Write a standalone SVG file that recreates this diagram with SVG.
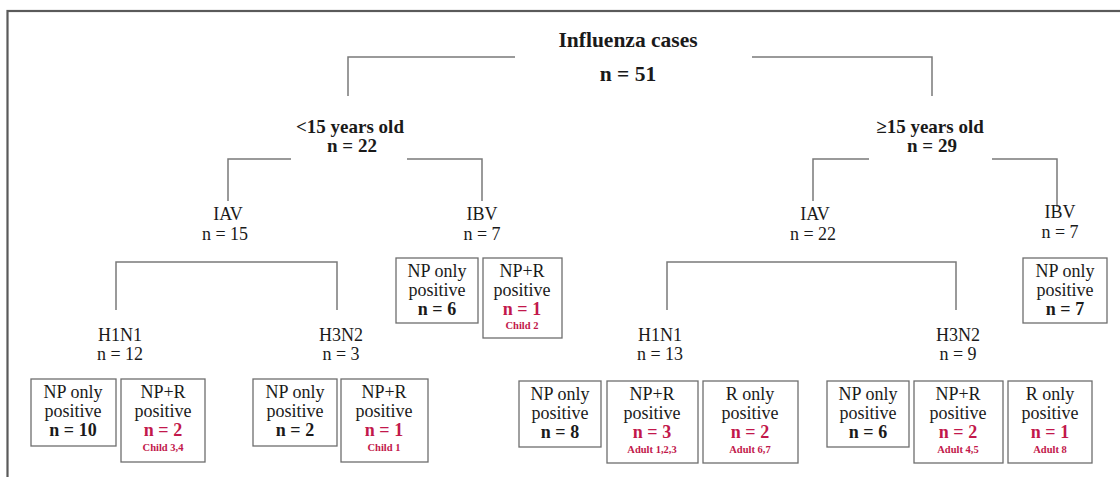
<svg xmlns="http://www.w3.org/2000/svg" width="1120" height="477" viewBox="0 0 1120 477" font-family="'Liberation Serif', 'DejaVu Serif', serif">
<style>
text{font-family:'Liberation Serif','DejaVu Serif',serif;text-anchor:middle;fill:#1a1a1a}
.t{font-size:21.5px;font-weight:bold}
.g{font-size:19px;font-weight:bold}
.l{font-size:18px}
.b{font-size:18px;font-weight:bold}
.r{fill:#c2184b}
.s{font-size:10.5px;font-weight:bold;fill:#c2184b}
.box{fill:#fff;stroke:#6e6e6e;stroke-width:1.3}
.c{fill:none;stroke:#7a7a7a;stroke-width:1.5}
</style>
<rect x="0" y="0" width="1120" height="477" fill="#fff"/>
<rect x="7.5" y="11" width="1200" height="600" fill="none" stroke="#5a5a5a" stroke-width="2.2"/>
<g id="connectors">
<polyline class="c" points="515,57 348,57 348,96"/>
<polyline class="c" points="752,57 932,57 932,96"/>
<polyline class="c" points="291,159 228,159 228,201"/>
<polyline class="c" points="407,159 482,159 482,201"/>
<polyline class="c" points="869,159 813,159 813,201"/>
<polyline class="c" points="992,159 1057,159 1057,207"/>
<polyline class="c" points="116,310 116,262 337,262 337,310"/>
<polyline class="c" points="667,310 667,262 956,262 956,310"/>
</g>
<g id="root">
<text class="t" x="628" y="47">Influenza cases</text>
<text class="t" x="628" y="81">n = 51</text>
</g>
<g id="under15">
<text class="g" x="350" y="133">&lt;15 years old</text>
<text class="g" x="352" y="152">n = 22</text>
</g>
<g id="over15">
<text class="g" x="930" y="133">≥15 years old</text>
<text class="g" x="932" y="152">n = 29</text>
</g>
<g id="iav-child">
<text class="l" x="228" y="220">IAV</text>
<text class="l" x="225" y="240">n = 15</text>
</g>
<g id="ibv-child">
<text class="l" x="482" y="220">IBV</text>
<text class="l" x="482" y="240">n = 7</text>
</g>
<g id="iav-adult">
<text class="l" x="815" y="220">IAV</text>
<text class="l" x="813" y="240">n = 22</text>
</g>
<g id="ibv-adult">
<text class="l" x="1060" y="218">IBV</text>
<text class="l" x="1060" y="238">n = 7</text>
</g>
<g id="h1n1-child">
<text class="l" x="120" y="341">H1N1</text>
<text class="l" x="120" y="360">n = 12</text>
</g>
<g id="h3n2-child">
<text class="l" x="341" y="341">H3N2</text>
<text class="l" x="341" y="360">n = 3</text>
</g>
<g id="h1n1-adult">
<text class="l" x="660" y="341">H1N1</text>
<text class="l" x="660" y="360">n = 13</text>
</g>
<g id="h3n2-adult">
<text class="l" x="958" y="341">H3N2</text>
<text class="l" x="958" y="360">n = 9</text>
</g>
<g id="ibv-child-np">
<rect class="box" x="396" y="258" width="82" height="65"/>
<text class="l" x="437" y="277">NP only</text>
<text class="l" x="437" y="296">positive</text>
<text class="b" x="437" y="315">n = 6</text>
</g>
<g id="ibv-child-npr">
<rect class="box" x="483" y="258" width="79" height="80"/>
<text class="l" x="522" y="277">NP+R</text>
<text class="l" x="522" y="296">positive</text>
<text class="b r" x="522" y="315">n = 1</text>
<text class="s" x="522" y="329">Child 2</text>
</g>
<g id="ibv-adult-np">
<rect class="box" x="1023" y="258" width="84" height="65"/>
<text class="l" x="1065" y="277">NP only</text>
<text class="l" x="1065" y="296">positive</text>
<text class="b" x="1065" y="315">n = 7</text>
</g>
<g id="h1n1-child-np">
<rect class="box" x="31" y="379" width="85" height="67"/>
<text class="l" x="73" y="398">NP only</text>
<text class="l" x="73" y="417">positive</text>
<text class="b" x="73" y="436">n = 10</text>
</g>
<g id="h1n1-child-npr">
<rect class="box" x="121" y="379" width="84" height="83"/>
<text class="l" x="163" y="398">NP+R</text>
<text class="l" x="163" y="417">positive</text>
<text class="b r" x="163" y="436">n = 2</text>
<text class="s" x="163" y="451">Child 3,4</text>
</g>
<g id="h3n2-child-np">
<rect class="box" x="253" y="379" width="84" height="67"/>
<text class="l" x="295" y="398">NP only</text>
<text class="l" x="295" y="417">positive</text>
<text class="b" x="295" y="436">n = 2</text>
</g>
<g id="h3n2-child-npr">
<rect class="box" x="341" y="379" width="87" height="83"/>
<text class="l" x="384" y="398">NP+R</text>
<text class="l" x="384" y="417">positive</text>
<text class="b r" x="384" y="436">n = 1</text>
<text class="s" x="384" y="451">Child 1</text>
</g>
<g id="h1n1-adult-np">
<rect class="box" x="519" y="381" width="82" height="66"/>
<text class="l" x="560" y="400">NP only</text>
<text class="l" x="560" y="419">positive</text>
<text class="b" x="560" y="438">n = 8</text>
</g>
<g id="h1n1-adult-npr">
<rect class="box" x="607" y="381" width="91" height="82"/>
<text class="l" x="652" y="400">NP+R</text>
<text class="l" x="652" y="419">positive</text>
<text class="b r" x="652" y="438">n = 3</text>
<text class="s" x="652" y="453">Adult 1,2,3</text>
</g>
<g id="h1n1-adult-r">
<rect class="box" x="703" y="381" width="95" height="82"/>
<text class="l" x="750" y="400">R only</text>
<text class="l" x="750" y="419">positive</text>
<text class="b r" x="750" y="438">n = 2</text>
<text class="s" x="750" y="453">Adult 6,7</text>
</g>
<g id="h3n2-adult-np">
<rect class="box" x="827" y="381" width="82" height="66"/>
<text class="l" x="868" y="400">NP only</text>
<text class="l" x="868" y="419">positive</text>
<text class="b" x="868" y="438">n = 6</text>
</g>
<g id="h3n2-adult-npr">
<rect class="box" x="914" y="381" width="89" height="82"/>
<text class="l" x="958" y="400">NP+R</text>
<text class="l" x="958" y="419">positive</text>
<text class="b r" x="958" y="438">n = 2</text>
<text class="s" x="958" y="453">Adult 4,5</text>
</g>
<g id="h3n2-adult-r">
<rect class="box" x="1008" y="381" width="84" height="82"/>
<text class="l" x="1050" y="400">R only</text>
<text class="l" x="1050" y="419">positive</text>
<text class="b r" x="1050" y="438">n = 1</text>
<text class="s" x="1050" y="453">Adult 8</text>
</g>
</svg>
